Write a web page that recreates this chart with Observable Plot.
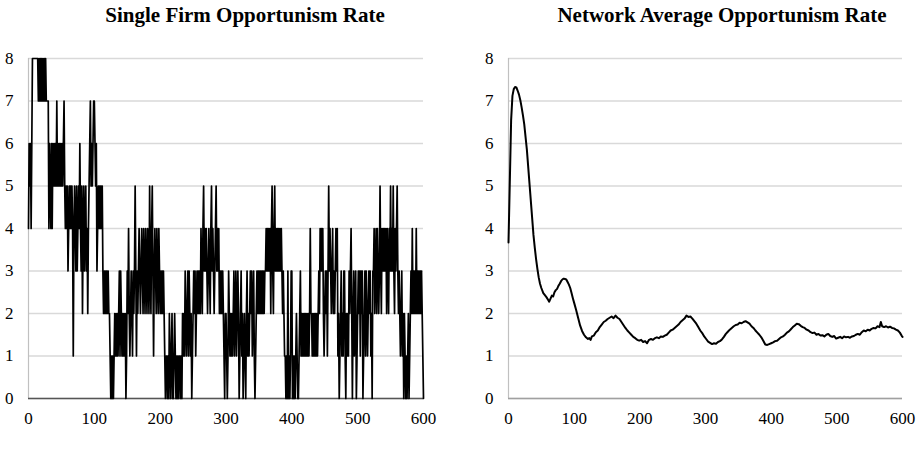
<!DOCTYPE html>
<html>
<head>
<meta charset="utf-8">
<script src="https://cdn.jsdelivr.net/npm/d3@7"></script>
<script src="https://cdn.jsdelivr.net/npm/@observablehq/plot@0.6"></script>
<style>
  html, body { margin: 0; padding: 0; background: #fff; }
  #wrap { position: relative; width: 923px; height: 454px; overflow: hidden; background: #fff; }
  .title { position: absolute; top: 3px; width: 420px; text-align: center;
           font-family: "Liberation Serif", "Times New Roman", serif; font-weight: bold;
           font-size: 21px; color: #000; white-space: nowrap; }
  .panel { position: absolute; top: 40px; }
</style>
</head>
<body>
<div id="wrap">
  <div class="title" id="t1" style="left:35px"></div>
  <div class="title" id="t2" style="left:512px"></div>
  <div class="panel" id="p1" style="left:0px"></div>
  <div class="panel" id="p2" style="left:480px"></div>
</div>
<script>
const leftTitle = "Single Firm Opportunism Rate";
const rightTitle = "Network Average Opportunism Rate";
const xTicks = [0, 100, 200, 300, 400, 500, 600];
const yTicks = [0, 1, 2, 3, 4, 5, 6, 7, 8];

// Single firm opportunism rate, one value per time step (t = 0 ... 600), ten per row
const singleFirmRate = [
  4,6,5,6,4,6,8,8,8,8,
  8,8,8,8,8,7,8,7,8,7,
  8,7,8,7,8,7,8,7,7,7,
  7,4,6,5,4,6,4,6,5,6,
  5,6,5,7,5,6,5,6,5,6,
  5,6,5,6,7,5,4,5,4,5,
  3,4,5,4,5,4,5,4,1,4,
  5,4,3,5,3,4,5,4,6,4,
  3,5,2,4,5,3,4,5,3,4,
  2,4,5,6,7,5,6,5,6,7,
  7,6,5,6,3,4,5,4,5,4,
  5,4,5,3,2,3,2,3,2,3,
  2,3,2,2,1,0,1,0,1,0,
  1,2,1,2,1,2,1,2,3,1,
  3,2,1,2,1,2,1,2,0,1,
  3,2,4,2,1,2,3,2,1,3,
  2,3,5,3,1,3,2,3,4,3,
  2,3,4,3,2,4,3,2,4,3,
  2,4,3,2,5,3,2,4,5,3,
  1,3,4,3,2,4,3,2,4,3,
  2,3,2,3,2,3,2,1,0,1,
  1,0,1,0,2,1,0,1,2,0,
  0,1,2,1,0,1,0,1,0,1,
  1,0,1,0,2,1,2,1,3,2,
  1,2,3,1,3,2,1,2,0,1,
  2,3,2,3,1,2,3,2,3,2,
  3,2,4,3,2,4,5,3,4,3,
  4,3,2,3,4,3,2,4,5,3,
  4,3,2,3,4,5,3,4,3,4,
  2,3,2,3,2,3,2,1,0,2,
  2,1,0,1,3,2,1,2,1,2,
  1,2,3,1,2,3,1,2,3,2,
  0,1,2,3,1,2,0,1,2,1,
  0,2,3,1,2,1,2,3,2,3,
  1,2,3,1,0,1,2,3,2,3,
  2,3,2,3,2,3,2,3,2,3,
  3,4,3,4,3,4,3,4,2,4,
  5,3,2,4,5,3,4,3,4,3,
  4,3,4,3,4,3,2,3,2,1,
  1,0,1,0,3,0,1,0,1,3,
  3,0,1,0,1,0,1,2,1,0,
  0,1,2,3,1,2,1,2,1,2,
  1,2,1,2,1,2,1,2,4,2,
  2,1,2,1,2,1,2,1,2,1,
  2,3,2,4,3,4,3,4,2,1,
  2,3,2,3,1,3,5,3,4,3,
  2,3,4,2,3,2,3,4,3,4,
  1,2,0,1,2,3,1,2,1,3,
  3,1,0,2,1,2,1,3,2,3,
  4,2,0,2,3,1,2,3,0,1,
  2,3,2,3,1,3,2,3,0,1,
  2,3,1,3,2,1,2,3,2,3,
  1,2,0,3,3,4,2,3,4,2,
  4,3,2,3,5,3,2,4,3,4,
  3,4,3,4,2,4,3,2,4,3,
  5,3,4,3,5,3,2,4,3,4,
  5,3,2,3,2,1,2,3,1,2,
  0,2,1,0,1,0,1,2,0,1,
  2,3,2,4,2,3,2,3,2,4,
  2,3,2,3,2,3,2,3,2,1,
  0
];

// Network average opportunism rate: [time, rate]
const networkPoints = [
  [0,3.67],[2,5.1],[4,6.55],[6,7.12],[8,7.28],[10,7.33],[12,7.32],[14,7.24],[16,7.15],[18,7.02],
  [20,6.85],[22,6.66],[24,6.45],[26,6.15],[28,5.85],[30,5.45],[32,5.05],[34,4.65],[36,4.25],[38,3.85],
  [40,3.55],[42,3.28],[44,3.05],[46,2.85],[48,2.7],[50,2.6],[53,2.48],[56,2.42],[58,2.38],[60,2.33],
  [62,2.28],[64,2.35],[66,2.42],[68,2.4],[70,2.5],[72,2.55],[74,2.58],[76,2.65],[78,2.7],[80,2.76],
  [82,2.8],[84,2.82],[86,2.81],[88,2.8],[90,2.74],[92,2.68],[94,2.6],[96,2.48],[98,2.36],[100,2.25],
  [103,2.08],[106,1.9],[109,1.72],[112,1.59],[115,1.5],[118,1.44],[121,1.4],[123,1.42],[125,1.38],[127,1.46],
  [130,1.48],[133,1.56],[136,1.6],[139,1.68],[142,1.74],[145,1.8],[148,1.83],[151,1.87],[154,1.9],[157,1.93],
  [160,1.89],[163,1.95],[166,1.9],[169,1.87],[172,1.8],[175,1.73],[178,1.66],[181,1.6],[184,1.55],[187,1.5],
  [190,1.45],[193,1.42],[196,1.38],[199,1.36],[202,1.38],[205,1.33],[208,1.35],[211,1.3],[214,1.38],[217,1.4],
  [220,1.38],[223,1.42],[226,1.44],[229,1.42],[232,1.46],[235,1.45],[238,1.48],[241,1.5],[244,1.55],[247,1.6],
  [250,1.62],[253,1.66],[256,1.7],[259,1.74],[262,1.8],[265,1.84],[268,1.88],[271,1.95],[274,1.92],[277,1.93],
  [280,1.88],[283,1.82],[286,1.76],[289,1.68],[292,1.6],[295,1.54],[298,1.46],[301,1.4],[304,1.34],[307,1.31],
  [310,1.28],[313,1.3],[316,1.29],[319,1.33],[322,1.35],[325,1.39],[328,1.45],[331,1.52],[334,1.57],[337,1.62],
  [340,1.66],[343,1.7],[346,1.73],[349,1.74],[352,1.78],[355,1.77],[358,1.8],[361,1.82],[364,1.79],[367,1.76],
  [370,1.7],[373,1.66],[376,1.6],[379,1.55],[382,1.5],[385,1.44],[388,1.36],[391,1.27],[394,1.26],[397,1.28],
  [400,1.3],[403,1.32],[406,1.35],[409,1.36],[412,1.4],[415,1.44],[418,1.46],[421,1.5],[424,1.55],[427,1.58],
  [430,1.63],[433,1.68],[436,1.72],[439,1.76],[442,1.75],[445,1.71],[448,1.68],[451,1.66],[454,1.62],[457,1.6],
  [460,1.56],[463,1.54],[466,1.55],[469,1.5],[472,1.52],[475,1.48],[478,1.49],[481,1.46],[484,1.5],[487,1.52],
  [490,1.47],[493,1.45],[496,1.47],[499,1.41],[502,1.43],[505,1.45],[508,1.42],[511,1.46],[514,1.44],[517,1.45],
  [520,1.43],[523,1.46],[526,1.47],[529,1.5],[532,1.52],[535,1.5],[538,1.56],[541,1.6],[544,1.58],[547,1.62],
  [550,1.6],[553,1.64],[556,1.66],[559,1.65],[562,1.7],[565,1.68],[567,1.8],[569,1.7],[572,1.68],[575,1.7],
  [578,1.67],[581,1.69],[584,1.66],[587,1.65],[590,1.62],[593,1.6],[596,1.55],[599,1.47],[600,1.45]
];

const singleData = singleFirmRate.map((v, t) => ({t, v}));
const netData = networkPoints.map(([t, v]) => ({t, v}));

function panel(data, opts) {
  return Plot.plot({
    width: opts.width, height: 400,
    marginLeft: 28, marginRight: opts.marginRight, marginTop: 18, marginBottom: 42,
    style: {fontFamily: '"Liberation Serif", "Times New Roman", serif', fontSize: "17px", color: "#000", background: "transparent"},
    x: {domain: [0, 600], label: null},
    y: {domain: [0, 8], label: null},
    marks: [
      Plot.gridY(yTicks, {stroke: "#d9d9d9", strokeOpacity: 1, strokeWidth: 1.5}),
      Plot.ruleX([0], {stroke: "#c0c0c0", strokeWidth: 1.2}),
      Plot.ruleY([0], {stroke: opts.baseColor, strokeWidth: 1.5}),
      Plot.line(data, {x: "t", y: "v", stroke: "#000", strokeWidth: opts.lineWidth}),
      Plot.axisX(xTicks, {tickSize: 0, tickPadding: 13, label: null}),
      Plot.axisY(yTicks, {tickSize: 0, tickPadding: 15, label: null})
    ]
  });
}

document.getElementById("t1").textContent = leftTitle;
document.getElementById("t2").textContent = rightTitle;
document.getElementById("p1").appendChild(panel(singleData, {width: 440, marginRight: 17, baseColor: "#555", lineWidth: 1.7}));
document.getElementById("p2").appendChild(panel(netData, {width: 443, marginRight: 21, baseColor: "#a0a0a0", lineWidth: 2}));
</script>
</body>
</html>
